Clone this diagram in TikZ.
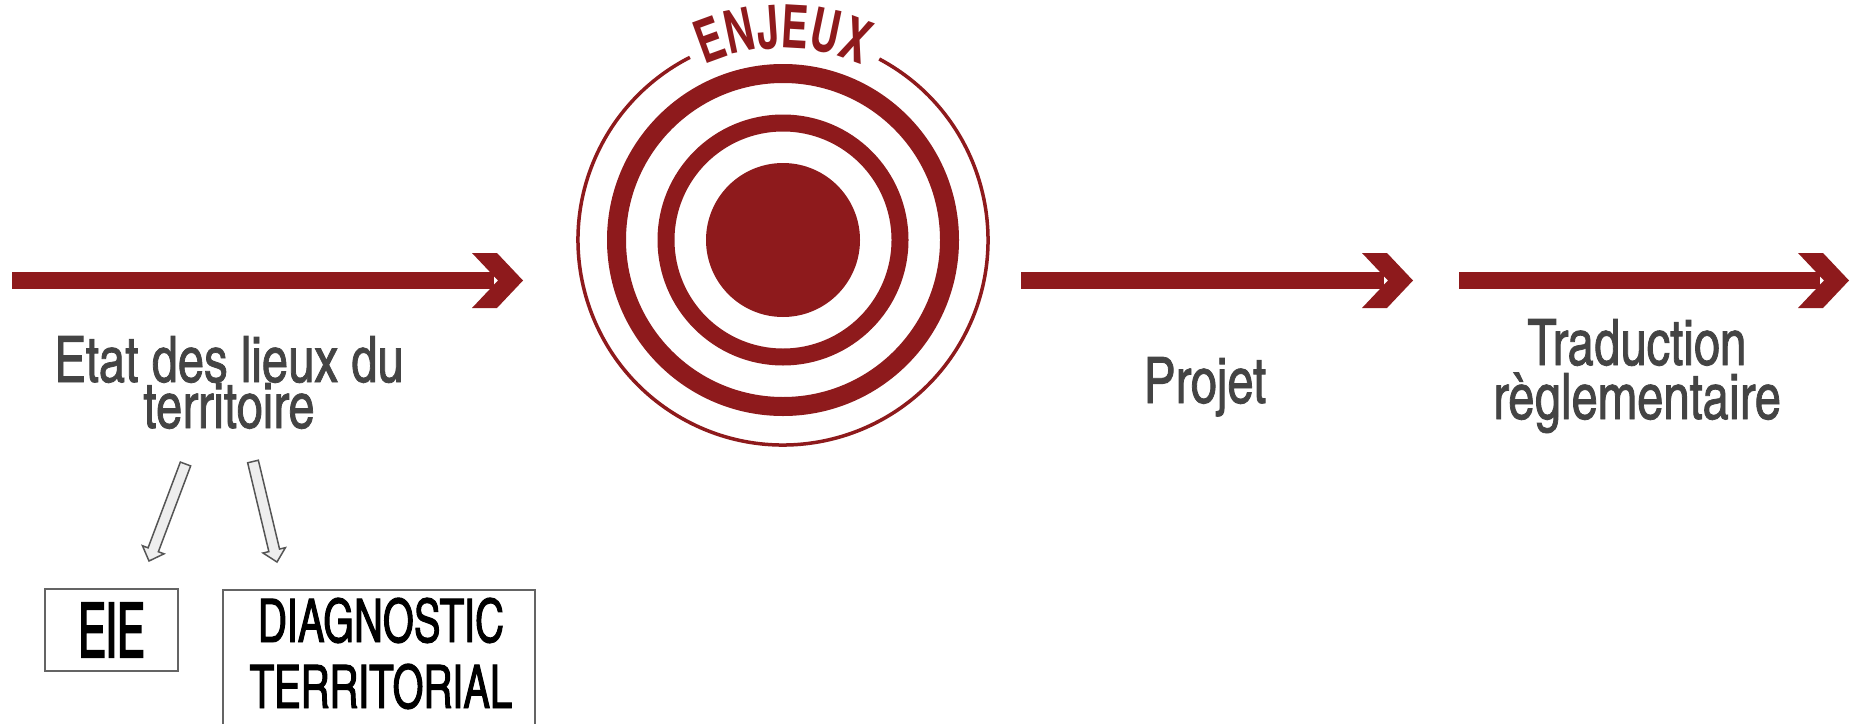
\documentclass[tikz,border=0pt]{standalone}
\usepackage{fontspec}
\usetikzlibrary{calc,decorations.text}
\newfontfamily\cnfont{texgyreheroscn}[Extension=.otf, UprightFont=*-regular, FakeStretch=0.9, FakeBold=1.2]
\newfontfamily\cnenj{texgyreheroscn}[Extension=.otf, UprightFont=*-bold, FakeStretch=0.82]
\newfontfamily\cnnarrow{texgyreheroscn}[Extension=.otf, UprightFont=*-regular, FakeStretch=0.66, FakeBold=2.2]
\newfontfamily\cnmid{texgyreheroscn}[Extension=.otf, UprightFont=*-regular, FakeStretch=0.81, FakeBold=1.6]
\newcommand\enjfont{\cnenj\fontsize{60}{60}\selectfont}
\definecolor{tred}{RGB}{142,26,28}
\definecolor{tgrey}{RGB}{68,68,68}
\definecolor{abox}{RGB}{100,100,100}
\definecolor{afill}{RGB}{238,238,238}
\definecolor{aline}{RGB}{85,85,85}
\newcommand\redarrow[2]{%
  \fill[tred] ($(#1)+(0,-8.5)$) rectangle ($(#2)+(-29,8.5)$);
  \fill[tred] (#2) -- ++(-26,-27.5) -- ++(-25,0) -- ++(26,27.5) -- ++(-26,27.5) -- ++(25,0) -- cycle;}
\newcommand\blockarrow[2]{%
  \coordinate (#1h) at ($(#2)!12pt!(#1)$);
  \filldraw[garrow] ($(#1)!5.5pt!90:(#2)$) -- ($(#1h)!5.5pt!90:(#2)$) -- ($(#1h)!11.5pt!90:(#2)$)
    -- (#2) -- ($(#1h)!11.5pt!-90:(#2)$) -- ($(#1h)!5.5pt!-90:(#2)$) -- ($(#1)!5.5pt!-90:(#2)$) -- cycle;}
\begin{document}
\begin{tikzpicture}[x=1pt,y=-1pt,
  greylabel/.style={font=\cnfont\fontsize{64}{46}\selectfont, text=tgrey, align=center, inner sep=0pt},
  framebox/.style={draw=abox, line width=1.5pt, inner sep=0pt},
  garrow/.style={draw=aline, fill=afill, line width=1.5pt, line join=miter}]
\useasboundingbox (0,0) rectangle (1858,723);
\clip (0,0) rectangle (1858,723);
\fill[white] (0,0) rectangle (1858,723);

% red arrows
\coordinate (a1s) at (12,280.5);   \coordinate (a1e) at (523,280.5);
\coordinate (a2s) at (1021,280.5); \coordinate (a2e) at (1413,280.5);
\coordinate (a3s) at (1459,280.5); \coordinate (a3e) at (1849,280.5);
\redarrow{a1s}{a1e}
\redarrow{a2s}{a2e}
\redarrow{a3s}{a3e}

% target
\coordinate (ctr) at (783,240);
\fill[tred] (ctr) circle[radius=77];
\draw[tred, line width=17] (ctr) circle[radius=117];
\draw[tred, line width=19] (ctr) circle[radius=166.5];
\draw[tred, line width=3.5] ($(ctr)+(-62:205)$) arc[start angle=-62, end angle=243, radius=205];
\path[decorate, decoration={text along path, text={|\enjfont|ENJEUX}, text align=center, text color=tred}]
  ($(ctr)+(-150:192)$) arc[start angle=-150, end angle=-30, radius=192];

% labels
\node[greylabel, anchor=base] (etat) at (229,428) {Etat des lieux du\\territoire};
\node[greylabel, anchor=base] (projet) at (1205,403) {Projet};
\node[greylabel, anchor=base, font=\cnfont\fontsize{64}{54}\selectfont] (trad) at (1637,419) {Traduction\\règlementaire};

% boxes
\node[framebox, minimum width=133, minimum height=82, font=\cnnarrow\fontsize{76}{76}\selectfont] (eie) at (111.5,630) {EIE};
\node[framebox, minimum width=312, minimum height=260, anchor=north] (diagbox) at (379,589) {};
\node[anchor=base, align=center, inner sep=0pt, font=\cnmid\fontsize{60}{66}\selectfont] (diag) at (381,708) {DIAGNOSTIC\\TERRITORIAL};

% grey block arrows
\coordinate (g1s) at (185.5,464); \coordinate (g1e) at (149,561);
\coordinate (g2s) at (253,461.5); \coordinate (g2e) at (277,562);
\blockarrow{g1s}{g1e}
\blockarrow{g2s}{g2e}
\end{tikzpicture}
\end{document}
